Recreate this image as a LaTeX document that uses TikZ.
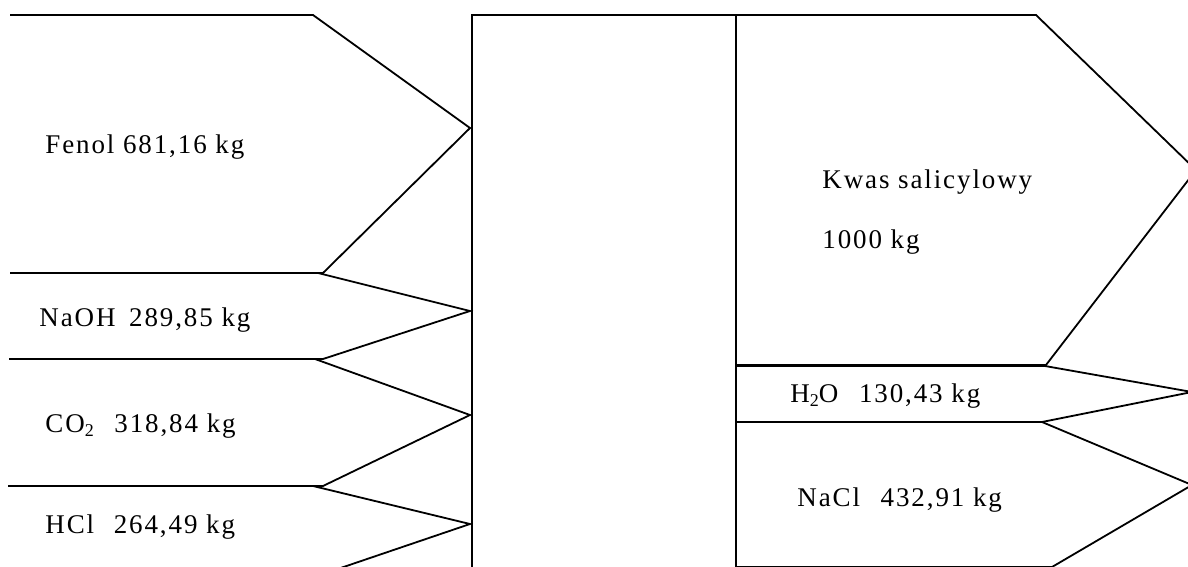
\documentclass[tikz,border=0pt]{standalone}
\usepackage{fontspec}
\setmainfont[LetterSpace=7]{Liberation Serif}
\newcommand{\lowsub}[1]{\raisebox{-0.35ex}{\fontsize{9pt}{10pt}\selectfont #1}}
\begin{document}
\begin{tikzpicture}[x=0.5pt,y=-0.5pt,
  flow/.style={draw=black,line width=0.9pt,line join=miter},
  lbl/.style={anchor=base west,inner sep=0pt,font=\fontsize{13.5pt}{16pt}\selectfont}]
\useasboundingbox (0,0) rectangle (1188,567);
\clip (0,0) rectangle (1188,567);
% input streams
\draw[flow] (10,15) -- (313,15) -- (470,128) -- (323,273) -- (10,273);
\draw[flow] (10,273) -- (318,273) -- (470,311) -- (323,359) -- (9,359);
\draw[flow] (9,359) -- (315,359) -- (470,415) -- (323,486) -- (8,486);
\draw[flow] (8,486) -- (313,486) -- (470,524) -- (320,575);
% reactor
\draw[flow] (472,580) -- (472,15) -- (736,15) -- (736,580);
% output streams
\draw[flow] (736,15) -- (1036,15) -- (1196,170) -- (1046,365) -- (736,365);
\draw[flow] (736,366) -- (1045,366) -- (1192,392) -- (1042,422) -- (736,422);
\draw[flow] (736,422) -- (1042,422) -- (1192,485) -- (1052,567) -- (736,567);
% labels
\node[lbl] (fenol) at (45,154) {Fenol 681,16 kg};
\node[lbl] (naoh) at (39,326) {NaOH\hspace{2.5pt} 289,85 kg};
\node[lbl] (co2) at (45,432) {CO\lowsub{2}\hspace{6pt} 318,84 kg};
\node[lbl] (hcl) at (45,533) {HCl\hspace{5.5pt} 264,49 kg};
\node[lbl] (kwas) at (822,188) {Kwas salicylowy};
\node[lbl] (masa) at (822,248) {1000 kg};
\node[lbl] (h2o) at (790,402) {H\lowsub{2}O\hspace{6pt} 130,43 kg};
\node[lbl] (nacl) at (797,506) {NaCl\hspace{6pt} 432,91 kg};
\end{tikzpicture}
\end{document}
